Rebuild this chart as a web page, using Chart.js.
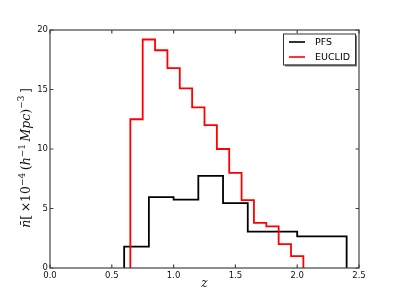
<!DOCTYPE html>
<html><head><meta charset="utf-8">
<script src="https://cdn.jsdelivr.net/npm/chart.js@4/dist/chart.umd.min.js"></script>
<style>html,body{margin:0;padding:0;background:#fff;overflow:hidden}#wrap{width:399px;height:299px}</style>
</head><body><div id="wrap"><canvas id="c" width="399" height="299"></canvas></div>
<script>
// ---- data ----
const xTicks = [0.0, 0.5, 1.0, 1.5, 2.0, 2.5];
const yTicks = [0, 5, 10, 15, 20];
const seriesLabels = ['PFS', 'EUCLID'];
const pfsEdges  = [0.6, 0.8, 1.0, 1.2, 1.4, 1.6, 2.0, 2.4];
const pfsValues = [1.8, 5.95, 5.75, 7.75, 5.45, 3.05, 2.65];
const euclidEdges  = [0.65, 0.75, 0.85, 0.95, 1.05, 1.15, 1.25, 1.35, 1.45, 1.55, 1.65, 1.75, 1.85, 1.95, 2.05];
const euclidValues = [12.5, 19.2, 18.3, 16.8, 15.1, 13.5, 12.0, 10.0, 8.0, 5.7, 3.8, 3.5, 2.0, 1.0];
const xTitle = 'z';

function stepPoints(edges, values) {
  const pts = [{x: edges[0], y: 0}];
  values.forEach((v, i) => pts.push({x: edges[i], y: v}));
  pts.push({x: edges[edges.length - 1], y: 0});
  return pts;
}

const frameTicks = {
  id: 'frameTicks',
  afterDraw(chart) {
    const {ctx, chartArea: a, scales: {x, y}} = chart;
    ctx.save();
    ctx.strokeStyle = '#444';
    ctx.lineWidth = 1.2;
    ctx.strokeRect(a.left, a.top, a.right - a.left, a.bottom - a.top);
    ctx.beginPath();
    const L = 3.5;
    x.ticks.forEach(t => {
      const px = x.getPixelForValue(t.value);
      ctx.moveTo(px, a.bottom); ctx.lineTo(px, a.bottom - L);
      ctx.moveTo(px, a.top); ctx.lineTo(px, a.top + L);
    });
    y.ticks.forEach(t => {
      const py = y.getPixelForValue(t.value);
      ctx.moveTo(a.left, py); ctx.lineTo(a.left + L, py);
      ctx.moveTo(a.right, py); ctx.lineTo(a.right - L, py);
    });
    ctx.stroke();
    ctx.restore();
  }
};

const boxLegend = {
  id: 'boxLegend',
  afterDraw(chart) {
    const {ctx, chartArea: a} = chart;
    const bx = a.right - 76, by = a.top + 3.5, bw = 72, bh = 31;
    ctx.save();
    ctx.fillStyle = '#777';
    ctx.fillRect(bx + 2, by + 2, bw, bh);
    ctx.fillStyle = '#fff';
    ctx.fillRect(bx, by, bw, bh);
    ctx.strokeStyle = '#333';
    ctx.lineWidth = 1;
    ctx.strokeRect(bx + 0.5, by + 0.5, bw, bh);
    ctx.font = '9.5px "DejaVu Sans"';
    ctx.textBaseline = 'middle';
    ctx.textAlign = 'left';
    const order = [0, 1];
    order.forEach((di, i) => {
      const ds = chart.data.datasets[di];
      const yy = by + 8.5 + i * 15;
      ctx.strokeStyle = ds.borderColor;
      ctx.lineWidth = 1.6;
      ctx.beginPath(); ctx.moveTo(bx + 6, yy); ctx.lineTo(bx + 22, yy); ctx.stroke();
      ctx.fillStyle = '#000';
      ctx.fillText(ds.label, bx + 32, yy + 0.5);
    });
    ctx.restore();
  }
};

const yTitlePlugin = {
  id: 'yTitle',
  afterDraw(chart) {
    const {ctx} = chart;
    const segs = [
      {t: 'n\u0304', s: 'italic', sz: 12.5, dy: 0},
      {t: '[\u2009', s: 'normal', sz: 12.5, dy: 0},
      {t: '\u00d710', s: 'normal', sz: 12.5, dy: 0},
      {t: '\u22124', s: 'normal', sz: 9, dy: -5},
      {t: '\u2009(', s: 'normal', sz: 12.5, dy: 0},
      {t: 'h', s: 'italic', sz: 12.5, dy: 0},
      {t: '\u22121', s: 'normal', sz: 9, dy: -5},
      {t: '\u2009Mpc', s: 'italic', sz: 12.5, dy: 0},
      {t: ')', s: 'normal', sz: 12.5, dy: 0},
      {t: '\u22123', s: 'normal', sz: 9, dy: -6},
      {t: '\u2009]', s: 'normal', sz: 12.5, dy: 0}
    ];
    ctx.save();
    ctx.translate(25, 158);
    ctx.rotate(-Math.PI / 2);
    ctx.fillStyle = '#111';
    ctx.textBaseline = 'alphabetic';
    ctx.textAlign = 'left';
    let total = 0;
    segs.forEach(g => { ctx.font = g.s + ' ' + g.sz + 'px "DejaVu Serif"'; g.w = ctx.measureText(g.t).width; total += g.w; });
    let xx = -total / 2;
    segs.forEach(g => { ctx.font = g.s + ' ' + g.sz + 'px "DejaVu Serif"'; ctx.fillText(g.t, xx, 4.5 + g.dy); xx += g.w; });
    ctx.restore();
  }
};

new Chart(document.getElementById('c'), {
  type: 'scatter',
  data: {
    datasets: [
      {label: seriesLabels[0], data: stepPoints(pfsEdges, pfsValues), showLine: true, stepped: true,
       borderColor: '#000000', borderWidth: 1.8, pointRadius: 0, fill: false, order: 1},
      {label: seriesLabels[1], data: stepPoints(euclidEdges, euclidValues), showLine: true, stepped: true,
       borderColor: '#ff0000', borderWidth: 1.8, pointRadius: 0, fill: false, order: 0}
    ]
  },
  options: {
    responsive: false,
    animation: false,
    devicePixelRatio: 1,
    layout: {padding: {left: 0, right: 40, top: 30, bottom: 0}},
    plugins: {legend: {display: false}, tooltip: {enabled: false}},
    scales: {
      x: {
        type: 'linear', position: 'bottom', min: 0, max: 2.5,
        afterBuildTicks: s => { s.ticks = xTicks.map(v => ({value: v})); },
        afterFit: s => { s.height = 31; },
        grid: {display: false, drawTicks: false},
        border: {display: false},
        ticks: {font: {family: 'DejaVu Sans', size: 8.5}, color: '#111', padding: 3,
                maxRotation: 0, autoSkip: false, callback: v => Number(v).toFixed(1)},
        title: {display: true, text: xTitle, color: '#111',
                font: {family: 'DejaVu Serif', style: 'italic', size: 12}, padding: {top: 0, bottom: 8}}
      },
      y: {
        type: 'linear', position: 'left', min: 0, max: 20,
        afterBuildTicks: s => { s.ticks = yTicks.map(v => ({value: v})); },
        afterFit: s => { s.width = 50; },
        grid: {display: false, drawTicks: false},
        border: {display: false},
        ticks: {font: {family: 'DejaVu Sans', size: 8.5}, color: '#111', padding: 2,
                autoSkip: false, callback: v => String(v)}
      }
    }
  },
  plugins: [frameTicks, boxLegend, yTitlePlugin]
});
</script></body></html>
